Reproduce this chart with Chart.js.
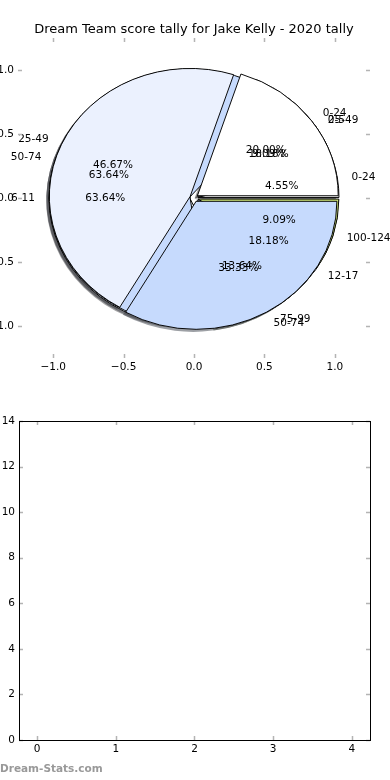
<!DOCTYPE html>
<html lang="en">
<head>
<meta charset="UTF-8">
<title>Dream Team score tally</title>
<script src="https://cdn.jsdelivr.net/npm/chart.js"></script>
<style>
  html, body { margin: 0; padding: 0; background: #fff; }
  body { width: 390px; height: 780px; position: relative; overflow: hidden; }
  canvas { position: absolute; }
  #pieChart { left: -20px; top: 0; }
  #emptyChart { left: -20px; top: 400px; }
  #credit { position: absolute; left: 0; top: 762px; font: bold 10.5px "DejaVu Sans"; color: #999; }
</style>
</head>
<body>
<canvas id="pieChart" width="410" height="400"></canvas>
<canvas id="emptyChart" width="410" height="380"></canvas>
<div id="credit">Dream-Stats.com</div>

<script>
const chartTitle = 'Dream Team score tally for Jake Kelly - 2020 tally';

// tally per score range
const tallyLabels = ['0-24', '25-49', '50-74'];
const tallyCounts = [3, 7, 5];
// round scores
const roundLabels = ['0-24', '25-49', '50-74', '75-99', '100-124'];
const roundCounts = [1, 2, 14, 3, 2];
// games
const gameLabels = ['0-5', '6-11', '12-17'];
const gameCounts = [2, 7, 2];

const sliceColors = ['#ffffff', '#ebf1fe', '#c6dafd', '#dcefc4', '#cfe57a'];
const explode = 0.03;

const pieTicks = [-1, -0.5, 0, 0.5, 1];
const emptyXTicks = [0, 1, 2, 3, 4];
const emptyYTicks = [0, 2, 4, 6, 8, 10, 12, 14];

const tickFont = { family: '"DejaVu Sans"', size: 10.5 };

function fmt1(v) {
    return (v < 0 ? '\u2212' : '') + Math.abs(v).toFixed(1);
}

function shade(hex) {
    const n = parseInt(hex.slice(1), 16);
    const r = Math.round(((n >> 16) & 255) * 0.3);
    const g = Math.round(((n >> 8) & 255) * 0.3);
    const b = Math.round((n & 255) * 0.3);
    return `rgba(${r},${g},${b},0.5)`;
}

function pieGeom(chart) {
    const x = chart.scales.x, y = chart.scales.y;
    const cx = x.getPixelForValue(0), cy = y.getPixelForValue(0);
    const r = x.getPixelForValue(1) - cx;
    const k = (cy - y.getPixelForValue(1)) / r;
    return { cx, cy, r, k };
}

function pieMetas(chart) {
    return chart.data.datasets.map((d, i) => chart.getDatasetMeta(i)).filter(m => m.type === 'pie');
}

// all pies share one (stretched) axes, like several plt.pie calls on the same ax
const overlapPies = {
    id: 'overlapPies',
    afterDatasetsUpdate(chart) {
        const g = pieGeom(chart);
        pieMetas(chart).forEach(meta => {
            meta.data.forEach(arc => {
                const mid = (arc.startAngle + arc.endAngle) / 2;
                arc.innerRadius = 0;
                arc.outerRadius = g.r;
                arc.x = g.cx + explode * g.r * Math.cos(mid);
                arc.y = g.cy + explode * g.r * Math.sin(mid);
            });
        });
    },
    beforeDatasetsDraw(chart) {
        const g = pieGeom(chart);
        const ctx = chart.ctx;
        ctx.save();
        ctx.translate(g.cx, g.cy);
        ctx.scale(1, -g.k);
        ctx.translate(-g.cx, -g.cy);
        // shadows go under every wedge
        const off = -0.02 * g.r;
        pieMetas(chart).forEach(meta => {
            meta.data.forEach(arc => {
                ctx.beginPath();
                ctx.moveTo(arc.x + off, arc.y + off);
                ctx.arc(arc.x + off, arc.y + off, arc.outerRadius, arc.startAngle, arc.endAngle);
                ctx.closePath();
                ctx.fillStyle = shade(arc.options.backgroundColor);
                ctx.fill();
            });
        });
    },
    afterDatasetsDraw(chart) {
        chart.ctx.restore();
    },
    afterDraw(chart) {
        const g = pieGeom(chart);
        const ctx = chart.ctx;
        const a = chart.chartArea;
        ctx.save();
        ctx.fillStyle = '#000';
        ctx.font = '10.5px "DejaVu Sans"';
        ctx.textBaseline = 'middle';
        pieMetas(chart).forEach(meta => {
            const ds = chart.data.datasets[meta.index];
            const total = ds.data.reduce((s, v) => s + v, 0);
            meta.data.forEach((arc, i) => {
                const m = (arc.startAngle + arc.endAngle) / 2;
                const c = Math.cos(m), s = Math.sin(m);
                ctx.textAlign = c > 0 ? 'left' : 'right';
                ctx.fillText(ds.sliceLabels[i],
                    g.cx + (explode + 1.1) * g.r * c,
                    g.cy - g.k * (explode + 1.1) * g.r * s);
                ctx.textAlign = 'center';
                ctx.fillText((ds.data[i] / total * 100).toFixed(2) + '%',
                    g.cx + (explode + 0.6) * g.r * c,
                    g.cy - g.k * (explode + 0.6) * g.r * s);
            });
        });
        ctx.font = '13px "DejaVu Sans"';
        ctx.textAlign = 'center';
        ctx.fillText(chartTitle, (a.left + a.right) / 2, a.top - 8);
        ctx.restore();
    }
};

const innerTicks = {
    id: 'innerTicks',
    afterDraw(chart) {
        const { ctx, chartArea: a, scales } = chart;
        ctx.save();
        ctx.strokeStyle = '#b4b4b4';
        ctx.lineWidth = 1.5;
        ctx.beginPath();
        scales.x.ticks.forEach(t => {
            const px = Math.round(scales.x.getPixelForValue(t.value)) + 0.5;
            ctx.moveTo(px, a.top); ctx.lineTo(px, a.top + 4);
            ctx.moveTo(px, a.bottom); ctx.lineTo(px, a.bottom - 4);
        });
        scales.y.ticks.forEach(t => {
            const py = Math.round(scales.y.getPixelForValue(t.value)) + 0.5;
            ctx.moveTo(a.left, py); ctx.lineTo(a.left + 4, py);
            ctx.moveTo(a.right, py); ctx.lineTo(a.right - 4, py);
        });
        ctx.stroke();
        ctx.restore();
    }
};

const frame = {
    id: 'frame',
    afterDraw(chart) {
        const { ctx, chartArea: a } = chart;
        ctx.save();
        ctx.strokeStyle = '#000';
        ctx.lineWidth = 1;
        ctx.strokeRect(Math.round(a.left) + 0.5, Math.round(a.top) + 0.5,
            Math.round(a.right - a.left), Math.round(a.bottom - a.top));
        ctx.restore();
    }
};

function axis(min, max, tickList, fmt, size, isX) {
    return {
        type: 'linear', min: min, max: max,
        grid: { display: false, drawTicks: false },
        border: { display: false },
        afterBuildTicks: s => { s.ticks = tickList.map(v => ({ value: v })); },
        afterFit: s => { if (isX) s.height = size; else s.width = size; },
        ticks: { autoSkip: false, maxRotation: 0, padding: isX ? 3 : 4, color: '#000', font: tickFont, callback: fmt }
    };
}

function pieSet(labels, counts) {
    return {
        type: 'pie',
        data: counts,
        sliceLabels: labels,
        backgroundColor: labels.map((l, i) => sliceColors[i % sliceColors.length]),
        borderColor: '#000',
        borderWidth: 1,
        rotation: 90,
        clip: false
    };
}

new Chart(document.getElementById('pieChart'), {
    type: 'scatter',
    data: {
        // first dataset is drawn on top
        datasets: [
            pieSet(tallyLabels, tallyCounts),
            pieSet(roundLabels, roundCounts),
            pieSet(gameLabels, gameCounts)
        ]
    },
    options: {
        responsive: false,
        animation: false,
        events: [],
        layout: { padding: { top: 38, right: 20, left: 0, bottom: 0 } },
        plugins: { legend: { display: false }, tooltip: { enabled: false }, title: { display: false } },
        scales: {
            x: axis(-1.25, 1.25, pieTicks, v => fmt1(v), 42, true),
            y: axis(-1.25, 1.25, pieTicks, v => fmt1(v), 38, false)
        }
    },
    plugins: [overlapPies, innerTicks]
});

new Chart(document.getElementById('emptyChart'), {
    type: 'scatter',
    data: { datasets: [] },
    options: {
        responsive: false,
        animation: false,
        events: [],
        layout: { padding: { top: 21, right: 20, left: 0, bottom: 0 } },
        plugins: { legend: { display: false }, tooltip: { enabled: false } },
        scales: {
            x: axis(-0.23, 4.23, emptyXTicks, v => String(v), 40, true),
            y: axis(0, 14, emptyYTicks, v => String(v), 39, false)
        }
    },
    plugins: [innerTicks, frame]
});
</script>
</body>
</html>
